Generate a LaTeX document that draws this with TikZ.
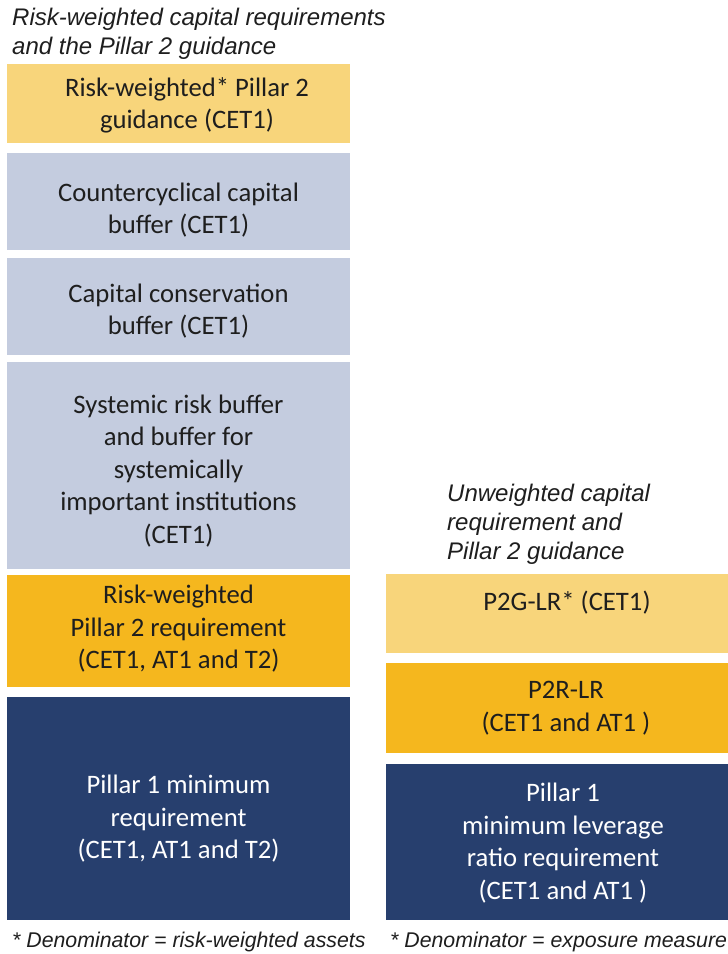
\documentclass[tikz,border=0pt]{standalone}
\usepackage{fontspec}
\setmainfont{Carlito}
\newfontfamily\arialf{Liberation Sans}
\definecolor{lightyel}{HTML}{F8D57B}
\definecolor{greyblue}{HTML}{C4CCDF}
\definecolor{orangey}{HTML}{F5B71E}
\definecolor{navy}{HTML}{273F6E}
\definecolor{txt}{HTML}{1E1E1E}
\begin{document}
\begin{tikzpicture}[x=1pt,y=-1pt,
  box/.style={anchor=north west, inner sep=0pt, outer sep=0pt, draw=none},
  lbl/.style={align=center, inner sep=0pt, font=\fontsize{26.67}{32.5}\selectfont, text=txt},
  wlbl/.style={lbl, text=white},
  head/.style={align=left, inner sep=0pt, anchor=west, font=\arialf\itshape\fontsize{24}{29}\selectfont, text=txt},
  foot/.style={inner sep=0pt, anchor=west, font=\arialf\itshape\fontsize{21.3}{25}\selectfont, text=txt}]
\useasboundingbox (0,0) rectangle (728,954);
\fill[white] (0,0) rectangle (728,954);
% left column
\node[box, fill=lightyel, minimum width=343pt, minimum height=79pt] (b1) at (7,64) {};
\node[box, fill=greyblue, minimum width=343pt, minimum height=97pt] (b2) at (7,153) {};
\node[box, fill=greyblue, minimum width=343pt, minimum height=97pt] (b3) at (7,258) {};
\node[box, fill=greyblue, minimum width=343pt, minimum height=207pt] (b4) at (7,362) {};
\node[box, fill=orangey, minimum width=343pt, minimum height=112pt] (b5) at (7,575) {};
\node[box, fill=navy, minimum width=343pt, minimum height=223pt] (b6) at (7,697) {};
% right column
\node[box, fill=lightyel, minimum width=342pt, minimum height=79pt] (r1) at (386,574) {};
\node[box, fill=orangey, minimum width=342pt, minimum height=90pt] (r2) at (386,663) {};
\node[box, fill=navy, minimum width=342pt, minimum height=156pt] (r3) at (386,764) {};
% labels
\node[lbl] (t1) at (187,105.5) {Risk-weighted* Pillar 2\\guidance (CET1)};
\node[lbl] (t2) at (178.5,210) {Countercyclical capital\\buffer (CET1)};
\node[lbl] (t3) at (178.5,311) {Capital conservation\\buffer (CET1)};
\node[lbl] (t4) at (178.5,471) {Systemic risk buffer\\and buffer for\\systemically\\important institutions\\(CET1)};
\node[lbl] (t5) at (178.5,629) {Risk-weighted\\Pillar 2 requirement\\(CET1, AT1 and T2)};
\node[wlbl] (t6) at (178.5,819) {Pillar 1 minimum\\requirement\\(CET1, AT1 and T2)};
\node[lbl] (u1) at (567,602.5) {P2G-LR* (CET1)};
\node[lbl] (u2) at (566,708) {P2R-LR\\(CET1 and AT1 )};
\node[wlbl] (u3) at (563,843) {Pillar 1\\minimum leverage\\ratio requirement\\(CET1 and AT1 )};
% headings
\node[head] (h1) at (12,33.5) {Risk-weighted capital requirements\\and the Pillar 2 guidance};
\node[head] (h2) at (447,524.5) {Unweighted capital\\requirement and\\Pillar 2 guidance};
% footnotes
\node[foot] (f1) at (12,942) {* Denominator = risk-weighted assets};
\node[foot] (f2) at (390,942) {* Denominator = exposure measure};
\end{tikzpicture}
\end{document}
